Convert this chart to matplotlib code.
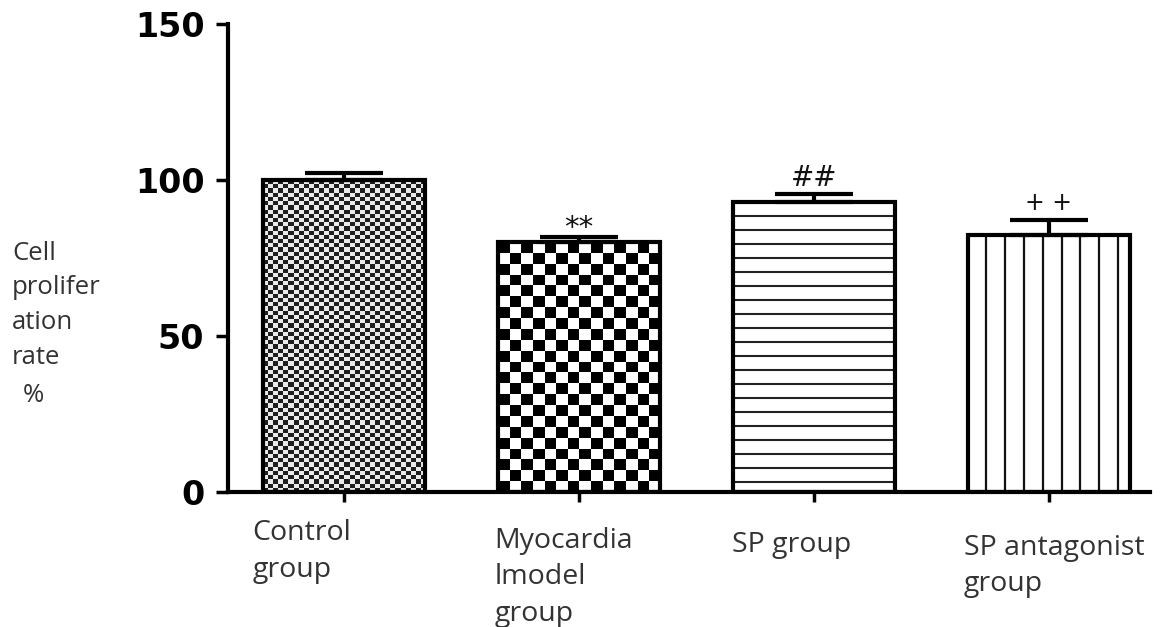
import numpy as np
import matplotlib
matplotlib.use("Agg")
import matplotlib.pyplot as plt
from matplotlib.transforms import blended_transform_factory

# ---- data ----
categories = ["Control\ngroup", "Myocardia\nlmodel\ngroup", "SP group", "SP antagonist\ngroup"]
values = [100.0, 80.0, 93.0, 82.3]
errors = [2.2, 1.6, 2.5, 5.0]
marks = ["", "**", "##", "+ +"]
yticks = [0, 50, 100, 150]
ylabel_lines = ["Cell", "prolifer", "ation", "rate"]
ylabel_unit = "%"

# ---- figure ----
W, H, DPI = 11.71, 6.27, 100
fig = plt.figure(figsize=(W, H), dpi=DPI)
ax = fig.add_axes([0.1947, 0.2153, 0.787, 0.7464])
XMIN, XMAX = -0.494, 3.43
YMIN, YMAX = 0, 150
bar_w = 0.69
x = np.arange(len(values))

bars = ax.bar(x, values, width=bar_w, facecolor="white", edgecolor="none", zorder=1)
outline = ax.bar(x, values, width=bar_w, fill=False, edgecolor="black", linewidth=3, zorder=4)

ax_w_px = 0.787 * W * DPI
ax_h_px = 0.7464 * H * DPI
sx = ax_w_px / (XMAX - XMIN)
sy = ax_h_px / (YMAX - YMIN)

def checker(i, cw, ch, dark, light):
    b = bars[i]
    x0, w, h = b.get_x(), b.get_width(), b.get_height()
    nx = max(1, int(round(w * sx / cw)))
    ny = max(1, int(round(h * sy / ch)))
    arr = (np.add.outer(np.arange(ny), np.arange(nx)) % 2).astype(float)
    img = np.where(arr[..., None] > 0, light, dark)
    im = ax.imshow(img, extent=[x0, x0 + w, 0, h], aspect="auto",
                   interpolation="nearest", zorder=2, origin="lower")
    im.set_clip_path(b)

checker(0, 5.0, 4.2, np.array([0.12, 0.12, 0.12]), np.array([0.92, 0.92, 0.92]))
checker(1, 12.0, 11.0, np.array([0.0, 0.0, 0.0]), np.array([1.0, 1.0, 1.0]))

# horizontal lines texture for SP group
b = bars[2]
step_y = 14.0 / sy
ys = np.arange(step_y * 0.7, b.get_height(), step_y)
hl = ax.hlines(ys, b.get_x(), b.get_x() + b.get_width(), colors="#222222", linewidth=1.5, zorder=2)
hl.set_clip_path(b)

# vertical lines texture for SP antagonist
b = bars[3]
step_x = 18.8 / sx
xs = np.arange(b.get_x() + step_x, b.get_x() + b.get_width(), step_x)
vl = ax.vlines(xs, 0, b.get_height(), colors="#111111", linewidth=1.6, zorder=2)
vl.set_clip_path(b)

# error bars (upper only)
ax.errorbar(x, values, yerr=[np.zeros(len(values)), errors], fmt="none",
            ecolor="black", elinewidth=3, capsize=28, capthick=3, zorder=5)

# significance marks
mark_off = [0, -1.6, 0.8, 1.4]
mark_size = [22, 21, 20, 17]
for xi, v, e, m, off, fs in zip(x, values, errors, marks, mark_off, mark_size):
    if m:
        ax.text(xi, v + e + off, m, ha="center", va="bottom", fontsize=fs,
                color="#111111", family="DejaVu Sans", zorder=6)

ax.set_xlim(XMIN, XMAX)
ax.set_ylim(YMIN, YMAX)

for s in ["top", "right"]:
    ax.spines[s].set_visible(False)
for s in ["left", "bottom"]:
    ax.spines[s].set_linewidth(3)
    ax.spines[s].set_capstyle("projecting")

ax.set_yticks(yticks)
ax.set_yticklabels([str(t) for t in yticks], fontsize=24, fontweight="bold",
                   family="DejaVu Sans")
ax.tick_params(axis="y", direction="out", length=9, width=2.5, pad=8)
ax.set_xticks(x)
ax.set_xticklabels([""] * len(x))
ax.tick_params(axis="x", direction="out", length=7, width=2.5)

# category labels (left aligned below each bar)
trans = blended_transform_factory(ax.transData, ax.transAxes)
lab_dx = [-0.39, -0.36, -0.35, -0.36]
lab_y = [-0.058, -0.074, -0.084, -0.089]
for xi, lab, dx, yy in zip(x, categories, lab_dx, lab_y):
    ax.text(xi + dx, yy, lab, transform=trans, ha="left", va="top",
            fontsize=20.5, family="Open Sans", color="#333333", linespacing=1.42)

fig.text(12 / (W * DPI), 1 - 241 / (H * DPI), "\n".join(ylabel_lines), ha="left", va="top",
         fontsize=18.5, family="Open Sans", color="#333333", linespacing=1.5)
fig.text(23 / (W * DPI), 1 - 383 / (H * DPI), ylabel_unit, ha="left", va="top",
         fontsize=18.5, family="Open Sans", color="#333333")

fig.savefig("out.png", dpi=DPI, facecolor="white")
